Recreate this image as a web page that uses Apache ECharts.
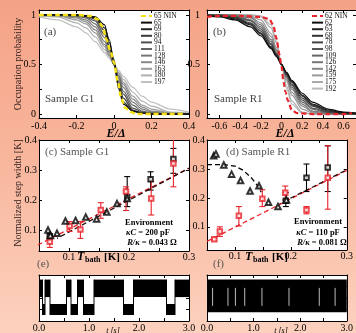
<!DOCTYPE html>
<html>
<head>
<meta charset="utf-8">
<script src="https://cdn.jsdelivr.net/npm/echarts@6/dist/echarts.min.js"></script>
<style>
  html, body { margin: 0; padding: 0; }
  body { background: linear-gradient(180deg, #f4a286 0%, #f8b59b 45%, #fcd1be 100%); }
  #chart { width: 356px; height: 333px; }
</style>
</head>
<body>
<div id="chart"></div>
<script>
// ---- (a) Sample G1: occupation probability vs E/Delta ----
const aE = [-0.4, -0.3, -0.2, -0.15, -0.1, -0.05, -0.025, 0, 0.025, 0.05, 0.1, 0.15, 0.2, 0.3, 0.4];
const aNames = ['65', '69', '80', '94', '111', '128', '146', '163', '180', '197'];
const aCurves = [
  [1, 1, 1, 0.99, 0.98, 0.9, 0.72, 0.55, 0.25, 0.1, 0.03, 0.01, 0, 0, 0],
  [1, 1, 1, 0.99, 0.97, 0.87, 0.75, 0.5, 0.28, 0.12, 0.03, 0.01, 0, 0, 0],
  [1, 1, 1, 0.99, 0.96, 0.84, 0.68, 0.52, 0.3, 0.16, 0.04, 0.01, 0, 0, 0],
  [1, 1, 0.99, 0.98, 0.94, 0.8, 0.67, 0.49, 0.33, 0.2, 0.06, 0.02, 0.01, 0, 0],
  [1, 1, 0.99, 0.97, 0.91, 0.77, 0.64, 0.5, 0.36, 0.23, 0.09, 0.03, 0.01, 0, 0],
  [1, 1, 0.98, 0.95, 0.88, 0.73, 0.62, 0.5, 0.38, 0.27, 0.12, 0.05, 0.02, 0, 0],
  [1, 0.99, 0.97, 0.93, 0.85, 0.7, 0.6, 0.5, 0.39, 0.3, 0.15, 0.07, 0.03, 0.01, 0],
  [1, 0.99, 0.95, 0.91, 0.82, 0.68, 0.59, 0.5, 0.41, 0.32, 0.18, 0.09, 0.05, 0.01, 0],
  [0.99, 0.98, 0.92, 0.87, 0.78, 0.65, 0.58, 0.5, 0.42, 0.35, 0.22, 0.13, 0.08, 0.02, 0.01],
  [0.98, 0.95, 0.88, 0.82, 0.73, 0.62, 0.56, 0.5, 0.44, 0.38, 0.27, 0.18, 0.12, 0.05, 0.02]
];
const aNinE = [-0.4, -0.3, -0.2, -0.12, -0.09, -0.06, -0.04, -0.02, 0, 0.02, 0.04, 0.06, 0.09, 0.12, 0.2, 0.3, 0.38];
const aNin = [1, 1, 1, 0.99, 0.96, 0.88, 0.75, 0.64, 0.52, 0.33, 0.15, 0.06, 0.02, 0, 0, 0, 0];

// ---- (b) Sample R1 ----
const bE = [-0.72, -0.6, -0.45, -0.3, -0.2, -0.1, -0.05, 0, 0.05, 0.1, 0.2, 0.3, 0.45, 0.6, 0.72];
const bNames = ['62', '63', '68', '78', '98', '109', '126', '142', '159', '175', '192'];
const bCurves = [
  [0.99, 0.98, 0.95, 0.88, 0.79, 0.66, 0.58, 0.5, 0.42, 0.34, 0.21, 0.12, 0.05, 0.02, 0.01],
  [0.99, 0.99, 0.96, 0.9, 0.81, 0.67, 0.59, 0.5, 0.41, 0.33, 0.19, 0.1, 0.04, 0.01, 0.01],
  [1, 0.99, 0.97, 0.91, 0.82, 0.68, 0.6, 0.5, 0.4, 0.32, 0.18, 0.09, 0.03, 0.01, 0],
  [1, 0.99, 0.98, 0.92, 0.84, 0.7, 0.6, 0.5, 0.4, 0.3, 0.16, 0.08, 0.02, 0.01, 0],
  [1, 1, 0.98, 0.94, 0.86, 0.71, 0.61, 0.5, 0.39, 0.29, 0.14, 0.06, 0.02, 0, 0],
  [1, 1, 0.99, 0.95, 0.88, 0.73, 0.62, 0.5, 0.38, 0.27, 0.12, 0.05, 0.01, 0, 0],
  [1, 1, 0.99, 0.97, 0.9, 0.75, 0.64, 0.5, 0.37, 0.25, 0.1, 0.03, 0.01, 0, 0],
  [1, 1, 1, 0.98, 0.92, 0.78, 0.65, 0.5, 0.35, 0.22, 0.08, 0.02, 0, 0, 0],
  [1, 1, 1, 0.99, 0.95, 0.81, 0.67, 0.5, 0.33, 0.19, 0.05, 0.01, 0, 0, 0],
  [1, 1, 1, 1, 0.98, 0.87, 0.72, 0.5, 0.28, 0.13, 0.02, 0, 0, 0, 0],
  [1, 1, 1, 1, 0.99, 0.9, 0.75, 0.5, 0.25, 0.1, 0.01, 0, 0, 0, 0]
];
const bNinE = [-0.72, -0.6, -0.4, -0.2, -0.12, -0.08, -0.05, -0.02, 0, 0.02, 0.04, 0.06, 0.1, 0.15, 0.3, 0.45, 0.6, 0.68];
const bNin = [0.98, 0.99, 0.99, 0.98, 0.96, 0.9, 0.77, 0.6, 0.48, 0.32, 0.22, 0.14, 0.04, 0.01, 0, 0, 0, 0.01];

// ---- (c) step widths, Sample G1: [T, w] and [T, w, lo, hi] ----
const cTri = [[0.065, 0.1], [0.069, 0.082], [0.08, 0.089], [0.094, 0.13], [0.111, 0.132], [0.128, 0.143],
  [0.146, 0.137], [0.163, 0.16], [0.18, 0.188], [0.197, 0.205]];
const cBlack = [[0.068, 0.079, 0.072, 0.086], [0.197, 0.21, 0.178, 0.278], [0.236, 0.269, 0.233, 0.294], [0.274, 0.337, 0.289, 0.372]];
const cRed = [[0.068, 0.061, 0.042, 0.078], [0.101, 0.113, 0.095, 0.128], [0.119, 0.102, 0.072, 0.128], [0.153, 0.167, 0.139, 0.191],
  [0.195, 0.228, 0.165, 0.244], [0.237, 0.205, 0.15, 0.262], [0.274, 0.322, 0.244, 0.42]];
const cRedFit = [[0.048, 0.05], [0.3, 0.306]];
const cBlackFit = [[0.08, 0.072], [0.3, 0.306]];

// ---- (d) step widths, Sample R1 ----
const dTri = [[0.062, 0.346], [0.066, 0.352], [0.08, 0.314], [0.094, 0.282], [0.11, 0.26], [0.127, 0.224],
  [0.143, 0.242], [0.16, 0.185], [0.177, 0.17], [0.192, 0.193]];
const dBlack = [[0.191, 0.19, 0.17, 0.218], [0.228, 0.27, 0.222, 0.317], [0.266, 0.305, 0.222, 0.38]];
const dRed = [[0.063, 0.057, 0.052, 0.062], [0.073, 0.084, 0.067, 0.1], [0.107, 0.138, 0.103, 0.17], [0.149, 0.197, 0.17, 0.228],
  [0.19, 0.218, 0.193, 0.241], [0.228, 0.158, 0.145, 0.17], [0.266, 0.27, 0.161, 0.38]];
const dRedFit = [[0.05, 0.05], [0.3, 0.295]];
const dBlackFitLow = [[0.05, 0.315], [0.08, 0.315], [0.1, 0.31], [0.115, 0.295], [0.13, 0.268], [0.14, 0.243], [0.147, 0.22]];
const dBlackFitHigh = [[0.18, 0.18], [0.3, 0.297]];

// ---- (e) telegraph trace: switch times [s] and state after each switch ----
const eTimes = [0, 0.07, 0.12, 0.22, 0.55, 0.64, 0.77, 0.89, 1.1, 1.69, 1.89, 2.55, 2.72, 3.0];
const eStates = [1, 0, 1, 0, 1, 0, 1, 0, 1, 0, 1, 0, 1];
const eHigh = [0.52, 0.9];
const eLow = [0.13, 0.37];
// ---- (f) fast switching band with a few visible gaps ----
const fBand = [0.19, 0.9];
const fGaps = [0.12, 0.45, 0.61, 0.81, 1.18, 1.76, 2.41, 2.75];

const SERIF = 'Liberation Serif';
const RED = '#e8232a';
const aGray = ['#0d0d0d', '#262626', '#3a3a3a', '#4f4f4f', '#636363', '#777777', '#8a8a8a', '#9c9c9c', '#aeaeae', '#c0c0c0'];
const bGray = ['#0d0d0d', '#222222', '#333333', '#444444', '#555555', '#666666', '#777777', '#888888', '#999999', '#aaaaaa', '#bbbbbb'];

const grids = [
  {left: 39, top: 10, width: 150, height: 108},
  {left: 207, top: 10, width: 152, height: 108},
  {left: 39, top: 140, width: 150, height: 111},
  {left: 207, top: 140, width: 150, height: 110},
  {left: 39, top: 275, width: 150, height: 51},
  {left: 207, top: 275, width: 152, height: 51}
].map(g => Object.assign(g, {show: true, backgroundColor: '#fff', borderWidth: 0}));

function axisPair(dir, gi, min, max, ticks, labels, fmt, margin) {
  const base = {
    type: 'value', gridIndex: gi, min: min, max: max,
    axisLine: {show: true, onZero: false, lineStyle: {color: '#000', width: 1}},
    axisTick: {show: true, inside: true, length: 3, customValues: ticks, lineStyle: {color: '#000', width: 1}},
    splitLine: {show: false}
  };
  const pos = dir === 'x' ? ['bottom', 'top'] : ['left', 'right'];
  return [
    Object.assign({}, base, {position: pos[0], axisLabel: {show: labels.length > 0, customValues: labels, formatter: fmt,
      margin: margin, fontFamily: SERIF, fontSize: 10, color: '#000'}}),
    Object.assign({}, base, {position: pos[1], axisLabel: {show: false}})
  ];
}
const f1 = v => String(Math.round(v * 10) / 10);
const fPlain = v => String(v);

const xAxis = [].concat(
  axisPair('x', 0, -0.4, 0.4, [-0.4, -0.2, 0, 0.2, 0.4], [-0.4, -0.2, 0, 0.2, 0.4], f1, 3),
  axisPair('x', 1, -0.72, 0.72, [-0.6, -0.4, -0.2, 0, 0.2, 0.4, 0.6], [-0.6, -0.4, -0.2, 0, 0.2, 0.4, 0.6], f1, 3),
  axisPair('x', 2, 0.05, 0.3, [0.1, 0.15, 0.2, 0.25, 0.3], [0.1, 0.2, 0.3], f1, 1),
  axisPair('x', 3, 0.05, 0.3, [0.1, 0.15, 0.2, 0.25, 0.3], [0.1, 0.2, 0.3], f1, 1),
  axisPair('x', 4, 0, 3, [0.5, 1, 1.5, 2, 2.5], [0, 1, 2, 3], v => v.toFixed(1), 2),
  axisPair('x', 5, 0, 3, [0.5, 1, 1.5, 2, 2.5], [0, 1, 2, 3], v => v.toFixed(1), 2)
);
const yAxis = [].concat(
  axisPair('y', 0, -0.04, 1.05, [0, 0.25, 0.5, 0.75, 1], [0, 0.5, 1], fPlain, 3),
  axisPair('y', 1, -0.04, 1.05, [0, 0.25, 0.5, 0.75, 1], [0, 0.5, 1], fPlain, 7),
  axisPair('y', 2, 0.03, 0.4, [0.1, 0.2, 0.3], [0.1, 0.2, 0.3, 0.4], f1, 2),
  axisPair('y', 3, 0.02, 0.4, [0.1, 0.2, 0.3], [0.1, 0.2, 0.3, 0.4], f1, 2),
  axisPair('y', 4, 0, 1, [0.25, 0.5, 0.75], [], fPlain, 2),
  axisPair('y', 5, 0, 1, [0.25, 0.5, 0.75], [], fPlain, 2)
);

const series = [];
// (a) grey curves, lightest first so dark ones sit on top
for (let i = aNames.length - 1; i >= 0; i--) {
  series.push({
    type: 'line', name: aNames[i], xAxisIndex: 0, yAxisIndex: 0, symbol: 'none',
    smooth: 0.3, smoothMonotone: 'x',
    data: aE.map((e, k) => [e, aCurves[i][k]]),
    lineStyle: {color: aGray[i], width: 1.2}, itemStyle: {color: aGray[i]}
  });
}
series.push({
  type: 'line', name: '65 NIN', xAxisIndex: 0, yAxisIndex: 0, symbol: 'none', smooth: 0.3, smoothMonotone: 'x',
  data: aNinE.map((e, k) => [e, aNin[k]]), z: 5,
  lineStyle: {color: '#f4e210', width: 2.5, type: [5, 3]}, itemStyle: {color: '#f4e210'}
});
// (b)
for (let i = bNames.length - 1; i >= 0; i--) {
  series.push({
    type: 'line', name: bNames[i], xAxisIndex: 2, yAxisIndex: 2, symbol: 'none',
    smooth: 0.3, smoothMonotone: 'x',
    data: bE.map((e, k) => [e, bCurves[i][k]]),
    lineStyle: {color: bGray[i], width: 1.2}, itemStyle: {color: bGray[i]}
  });
}
series.push({
  type: 'line', name: '62 NIN', xAxisIndex: 2, yAxisIndex: 2, symbol: 'none', smooth: 0.3, smoothMonotone: 'x',
  data: bNinE.map((e, k) => [e, bNin[k]]), z: 5,
  lineStyle: {color: RED, width: 2.2, type: [5, 3]}, itemStyle: {color: RED}
});

function errorBars(color) {
  return function (params, api) {
    const x = api.value(0);
    const lo = api.coord([x, api.value(2)]);
    const hi = api.coord([x, api.value(3)]);
    const st = {stroke: color, lineWidth: 1.1};
    return {type: 'group', children: [
      {type: 'line', shape: {x1: lo[0], y1: lo[1], x2: hi[0], y2: hi[1]}, style: st},
      {type: 'line', shape: {x1: lo[0] - 3, y1: lo[1], x2: lo[0] + 3, y2: lo[1]}, style: st},
      {type: 'line', shape: {x1: hi[0] - 3, y1: hi[1], x2: hi[0] + 3, y2: hi[1]}, style: st}
    ]};
  };
}
function stepPanel(xi, tri, black, red, fits) {
  fits.forEach(f => series.push({
    type: 'line', xAxisIndex: xi, yAxisIndex: xi, data: f.data, symbol: 'none', z: 2,
    lineStyle: {color: f.color, width: 1.3, type: [5, 3], dashOffset: f.off || 0}
  }));
  [[black, '#000'], [red, RED]].forEach(([d, col]) => {
    series.push({type: 'custom', xAxisIndex: xi, yAxisIndex: xi, data: d, clip: true, z: 3, renderItem: errorBars(col)});
    series.push({type: 'scatter', xAxisIndex: xi, yAxisIndex: xi, data: d.map(p => [p[0], p[1]]), z: 4,
      symbol: 'emptyRect', symbolSize: 4.5, itemStyle: {color: col, borderColor: col, borderWidth: 1}});
  });
  series.push({type: 'scatter', xAxisIndex: xi, yAxisIndex: xi, data: tri, z: 5,
    symbol: 'emptyTriangle', symbolSize: 5.5, itemStyle: {color: '#000', borderColor: '#000', borderWidth: 1}});
}
stepPanel(4, cTri, cBlack, cRed, [{data: cRedFit, color: RED}, {data: cBlackFit, color: '#2a0a0a', off: 4}]);
stepPanel(6, dTri, dBlack, dRed, [{data: dRedFit, color: RED}, {data: dBlackFitLow, color: '#000'}, {data: dBlackFitHigh, color: '#2a0a0a', off: 4}]);

// (e) slow telegraph signal
series.push({
  type: 'custom', xAxisIndex: 8, yAxisIndex: 8, clip: true,
  data: eStates.map((s, i) => [eTimes[i], eTimes[i + 1], s]),
  renderItem: function (params, api) {
    const band = api.value(2) ? eHigh : eLow;
    const p0 = api.coord([api.value(0), band[1]]);
    const p1 = api.coord([api.value(1), band[0]]);
    const lo = api.coord([api.value(0), eLow[0]]);
    const hi = api.coord([api.value(0), eHigh[1]]);
    return {type: 'group', children: [
      {type: 'rect', shape: {x: p0[0], y: p0[1], width: p1[0] - p0[0], height: p1[1] - p0[1]}, style: {fill: '#000'}},
      {type: 'line', shape: {x1: lo[0], y1: lo[1], x2: hi[0], y2: hi[1]}, style: {stroke: '#000', lineWidth: 1}}
    ]};
  }
});
// (f) fast switching
series.push({
  type: 'custom', xAxisIndex: 10, yAxisIndex: 10, clip: true,
  data: [[0, 3]],
  renderItem: function (params, api) {
    const p0 = api.coord([api.value(0), fBand[1]]);
    const p1 = api.coord([api.value(1), fBand[0]]);
    return {type: 'rect', shape: {x: p0[0], y: p0[1], width: p1[0] - p0[0], height: p1[1] - p0[1]}, style: {fill: '#000'}};
  }
});
series.push({
  type: 'custom', xAxisIndex: 10, yAxisIndex: 10, clip: true, z: 3,
  data: fGaps.map(t => [t]),
  renderItem: function (params, api) {
    const a = api.coord([api.value(0), 0.33]);
    const b = api.coord([api.value(0), 0.72]);
    return {type: 'line', shape: {x1: a[0], y1: a[1], x2: b[0], y2: b[1]}, style: {stroke: '#bbb', lineWidth: 1}};
  }
});

function legendFor(names, left) {
  return {
    data: names, left: left, top: 12, orient: 'vertical', padding: 0,
    itemWidth: 11, itemHeight: 5, itemGap: -1.4,
    selectedMode: false,
    itemStyle: {opacity: 0},
    lineStyle: {width: 2},
    textStyle: {fontFamily: SERIF, fontSize: 7.5, lineHeight: 6, color: '#111', padding: [0, 0, 0, -3]}
  };
}

const txt = (x, y, text, o) => ({type: 'text', x: x, y: y, silent: true,
  style: Object.assign({text: text, fontFamily: SERIF, fontSize: 10, fill: '#000', verticalAlign: 'middle'}, o || {})});
const rich = {i: {fontStyle: 'italic', fontWeight: 'bold', fontSize: 8.5, fontFamily: SERIF}};
const graphic = [
  txt(18, 64, 'Occupation probability', {align: 'center', fontSize: 10, fill: '#2a1a1a'}),
  txt(18, 193, 'Normalized step width [K]', {align: 'center', fontSize: 10, fill: '#2a1a1a'}),
  txt(44, 32, '(a)', {fill: '#444', fontSize: 11}),
  txt(45, 99, 'Sample G1', {fill: '#444', fontSize: 11}),
  txt(213, 32, '(b)', {fill: '#444', fontSize: 11}),
  txt(214, 99, 'Sample R1', {fill: '#444', fontSize: 11}),
  txt(45, 152, '(c) Sample G1', {fill: '#555', fontSize: 11}),
  txt(226, 152, '(d) Sample R1', {fill: '#555', fontSize: 11}),
  txt(37, 264, '(e)', {fill: '#555', fontSize: 11}),
  txt(213, 264, '(f)', {fill: '#555', fontSize: 11}),
  txt(116, 134, 'E/Δ', {align: 'center', fontSize: 12, fontWeight: 'bold', fontStyle: 'italic'}),
  txt(285, 134, 'E/Δ', {align: 'center', fontSize: 12, fontWeight: 'bold', fontStyle: 'italic'}),
  txt(77, 257, 'T', {fontSize: 12, fontWeight: 'bold', fontStyle: 'italic'}),
  txt(85, 260, 'bath', {fontSize: 8, fontWeight: 'bold'}),
  txt(104, 257, '[K]', {fontSize: 11, fontWeight: 'bold'}),
  txt(245, 257, 'T', {fontSize: 12, fontWeight: 'bold', fontStyle: 'italic'}),
  txt(253, 260, 'bath', {fontSize: 8, fontWeight: 'bold'}),
  txt(272, 257, '[K]', {fontSize: 11, fontWeight: 'bold'}),
  txt(149, 223, 'Environment', {align: 'center', fontSize: 8.5, fontWeight: 'bold'}),
  txt(148, 233, '{i|κC} = 200 pF', {align: 'center', fontSize: 8.5, fontWeight: 'bold', rich: rich}),
  txt(152, 243, '{i|R/κ} = 0.043 Ω', {align: 'center', fontSize: 8.5, fontWeight: 'bold', rich: rich}),
  txt(318, 222, 'Environment', {align: 'center', fontSize: 8.5, fontWeight: 'bold'}),
  txt(318, 233, '{i|κC} = 110 pF', {align: 'center', fontSize: 8.5, fontWeight: 'bold', rich: rich}),
  txt(322, 243, '{i|R/κ} = 0.081 Ω', {align: 'center', fontSize: 8.5, fontWeight: 'bold', rich: rich}),
  txt(113, 331, 't [s]', {align: 'center', fontSize: 8, fontStyle: 'italic'}),
  txt(281, 331, 't [s]', {align: 'center', fontSize: 8, fontStyle: 'italic'})
];
graphic[0].rotation = Math.PI / 2;
graphic[1].rotation = Math.PI / 2;

const chart = echarts.init(document.getElementById('chart'), null, {renderer: 'canvas'});
chart.setOption({
  animation: false,
  backgroundColor: 'transparent',
  grid: grids,
  xAxis: xAxis,
  yAxis: yAxis,
  legend: [legendFor(['65 NIN'].concat(aNames), 140), legendFor(['62 NIN'].concat(bNames), 311)],
  series: series,
  graphic: graphic
});
</script>
</body>
</html>
